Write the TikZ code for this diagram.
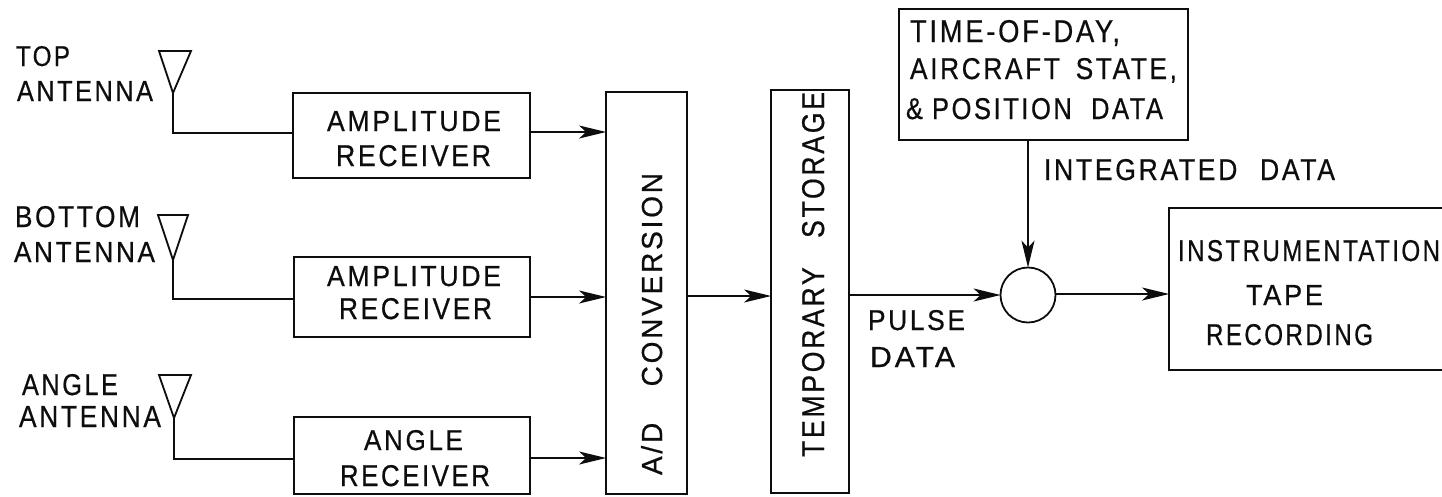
\documentclass[tikz,border=0pt]{standalone}
\usepackage{fontspec}
\setmainfont[LetterSpace=10,FakeBold=0.6]{Liberation Sans}
\usetikzlibrary{arrows.meta,fit}
\tikzset{
  box/.style={draw=ink,line width=1.8pt,inner sep=0pt,rectangle},
  wire/.style={draw=ink,line width=1.6pt},
  arrowline/.style={wire,shorten >=-1pt,-{Stealth[length=27pt,width=13pt,inset=7pt]}},
  aerial/.style={draw=ink,line width=1.8pt,line join=miter},
  lab/.style={inner sep=0pt,outer sep=0pt,text=ink,anchor=base west},
  labup/.style={lab,rotate=90},
}
\definecolor{ink}{gray}{0.05}
\newcommand{\txt}[3]{\resizebox{#1pt}{#2pt}{\fontsize{29}{29}\selectfont #3}}
\begin{document}
\begin{tikzpicture}[x=1pt,y=-1pt]
\useasboundingbox (0,0) rectangle (1442,496);
\clip (0,0) rectangle (1442,496);
% boxes
\node[box,fit={(293,93)(530,178)}] (b1) {};
\node[box,fit={(294,257)(530,337)}] (b2) {};
\node[box,fit={(294,417)(530,494)}] (b3) {};
\node[box,fit={(606,92)(687,494)}] (ad) {};
\node[box,fit={(771,90)(849,493)}] (ts) {};
\node[box,fit={(899,9)(1188,140)}] (td) {};
\node[box,fit={(1169,208)(1460,370)}] (ir) {};
\node[draw=ink,line width=1.8pt,circle,inner sep=0pt,minimum size=55pt] (sum) at (1028,295) {};
% antennas
\coordinate (t1) at (173,93);
\coordinate (t2) at (173,260);
\coordinate (t3) at (174,418);
\draw[aerial] (159,51) -- (191,51) -- (t1) -- cycle;
\draw[aerial] (158,215) -- (188,215) -- (t2) -- cycle;
\draw[aerial] (159,375) -- (191,375) -- (t3) -- cycle;
\draw[wire] (t1) |- (b1.west |- 0,133);
\draw[wire] (t2) |- (b2.west |- 0,299);
\draw[wire] (t3) |- (b3.west |- 0,459);
% connectors
\draw[arrowline] (b1.east |- 0,132) -- (ad.west |- 0,132);
\draw[arrowline] (b2.east |- 0,297) -- (ad.west |- 0,297);
\draw[arrowline] (b3.east |- 0,458) -- (ad.west |- 0,458);
\draw[arrowline] (ad.east |- 0,296) -- (ts.west |- 0,296);
\draw[arrowline] (ts.east |- 0,295) -- (sum.west |- 0,295);
\draw[arrowline] (td.south -| sum.north) -- (sum.north);
\draw[arrowline] (sum.east |- 0,294) -- (ir.west |- 0,294);
% labels
\node[lab] (l1) at (16,66) {\txt{54}{20}{TOP}};
\node[lab] (l2) at (17,101) {\txt{136}{20}{ANTENNA}};
\node[lab] (l3) at (15,227) {\txt{125}{21}{BOTTOM}};
\node[lab] (l4) at (14,262) {\txt{141}{20}{ANTENNA}};
\node[lab] (l5) at (22,395) {\txt{96}{21}{ANGLE}};
\node[lab] (l6) at (19,427) {\txt{142}{21}{ANTENNA}};
\node[lab] (l7) at (327,131) {\txt{174}{20}{AMPLITUDE}};
\node[lab] (l8) at (336,166) {\txt{155}{21}{RECEIVER}};
\node[lab] (l9) at (327,286) {\txt{174}{20}{AMPLITUDE}};
\node[lab] (l10) at (339,319) {\txt{153}{21}{RECEIVER}};
\node[lab] (l11) at (364,450) {\txt{99}{20}{ANGLE}};
\node[lab] (l12) at (340,486) {\txt{150}{21}{RECEIVER}};
\node[labup] (l13) at (662,475) {\txt{302}{21}{A/D\hspace{1.3em}CONVERSION}};
\node[labup] (l14) at (824,457) {\txt{365}{22}{TEMPORARY\hspace{1.1em}STORAGE}};
\node[lab] (l15) at (868,330) {\txt{97}{20}{PULSE}};
\node[lab] (l16) at (870,367) {\txt{85}{20}{DATA}};
\node[lab] (l17) at (910,42) {\txt{210}{22}{TIME-OF-DAY,}};
\node[lab] (l18) at (910,79) {\txt{267}{21}{AIRCRAFT\hspace{0.6em}STATE,}};
\node[lab] (l19) at (906,119) {\txt{257}{21}{\&\hspace{0.35em}POSITION\hspace{0.75em}DATA}};
\node[lab] (l20) at (1044,180) {\txt{291}{21}{INTEGRATED\hspace{0.85em}DATA}};
\node[lab] (l21) at (1178,261) {\txt{262}{21}{INSTRUMENTATION}};
\node[lab] (l22) at (1246,305) {\txt{77}{20}{TAPE}};
\node[lab] (l23) at (1206,345) {\txt{167}{21}{RECORDING}};
\end{tikzpicture}
\end{document}
